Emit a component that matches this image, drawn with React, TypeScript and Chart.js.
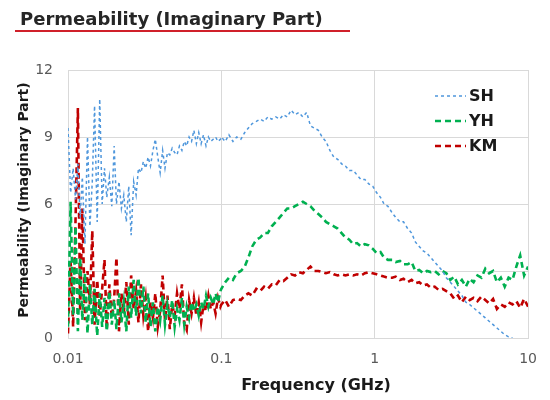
import React, { useEffect, useRef } from "react";
import { Chart, registerables } from "chart.js";

Chart.register(...registerables);

const TITLE = "Permeability (Imaginary Part)";
const X_TITLE = "Frequency (GHz)";
const Y_TITLE = "Permeability (Imaginary Part)";
const X_TICKS = [0.01, 0.1, 1, 10];
const X_TICK_LABELS = ["0.01", "0.1", "1", "10"];
const Y_MIN = 0;
const Y_MAX = 12;
const Y_STEP = 3;

const FREQ_GHZ = [
  0.0100, 0.0104, 0.0108, 0.0112, 0.0116, 0.0120, 0.0124, 0.0129, 0.0134, 0.0139,
  0.0144, 0.0149, 0.0155, 0.0161, 0.0167, 0.0173, 0.0179, 0.0186, 0.0193, 0.0200,
  0.0207, 0.0215, 0.0223, 0.0231, 0.0240, 0.0249, 0.0258, 0.0268, 0.0278, 0.0288,
  0.0299, 0.0310, 0.0321, 0.0333, 0.0345, 0.0358, 0.0371, 0.0385, 0.0399, 0.0414,
  0.0429, 0.0445, 0.0461, 0.0478, 0.0496, 0.0514, 0.0533, 0.0553, 0.0573, 0.0594,
  0.0616, 0.0639, 0.0662, 0.0687, 0.0712, 0.0738, 0.0765, 0.0794, 0.0823, 0.0853,
  0.0885, 0.0917, 0.0951, 0.0986,
  0.100, 0.106, 0.112, 0.119, 0.126, 0.134, 0.142, 0.150, 0.159, 0.169,
  0.179, 0.190, 0.201, 0.213, 0.226, 0.240, 0.254, 0.269, 0.285, 0.302,
  0.320, 0.340, 0.360, 0.381, 0.404, 0.429, 0.454, 0.481, 0.510, 0.541,
  0.573, 0.608, 0.644, 0.683, 0.724, 0.767, 0.813, 0.862, 0.914, 0.969,
  1.03, 1.09, 1.15, 1.22, 1.30, 1.37, 1.46, 1.54, 1.64, 1.74,
  1.84, 1.95, 2.07, 2.19, 2.32, 2.46, 2.61, 2.77, 2.93, 3.11,
  3.30, 3.49, 3.70, 3.93, 4.16, 4.41, 4.68, 4.96, 5.26, 5.57,
  5.91, 6.26, 6.64, 7.04, 7.46, 7.91, 8.38, 8.88, 9.42, 10.0,
];

const SH = [
  9.4, 6.5, 7.6, 6.2, 7.8, 5.4, 7.2, 4.2, 9.0, 5.0,
  7.0, 10.4, 5.2, 10.7, 6.0, 7.6, 6.3, 7.2, 5.9, 8.6,
  6.0, 7.0, 5.8, 6.4, 5.2, 6.8, 4.6, 7.0, 6.4, 7.6,
  7.4, 7.9, 7.6, 8.1, 7.7, 8.4, 8.9, 8.1, 7.4, 8.4,
  7.6, 8.3, 8.2, 8.5, 8.3, 8.2, 8.6, 8.4, 8.8, 8.6,
  9.0, 8.8, 9.3, 8.7, 9.2, 8.7, 9.1, 8.6, 9.0, 8.8,
  8.9, 9.0, 8.8, 8.9,
  9.0, 8.8, 9.1, 8.8, 9.0, 8.9, 9.2, 9.4, 9.6, 9.7,
  9.8, 9.7, 9.9, 9.8, 9.9, 9.8, 10.0, 9.9, 10.2, 10.0,
  10.1, 9.9, 10.1, 9.5, 9.4, 9.3, 9.0, 8.8, 8.4, 8.1,
  8.0, 7.8, 7.7, 7.5, 7.5, 7.3, 7.1, 7.1, 6.9, 6.8,
  6.5, 6.3, 6.0, 5.9, 5.6, 5.4, 5.2, 5.2, 4.9, 4.7,
  4.3, 4.1, 3.9, 3.8, 3.6, 3.4, 3.2, 3.0, 2.7, 2.5,
  2.3, 2.1, 1.9, 1.6, 1.5, 1.35, 1.2, 1.05, 0.9, 0.75,
  0.6, 0.45, 0.3, 0.15, 0.05, 0.0, null, null, null, null,
];

const YH = [
  0.5, 6.1, 1.0, 5.0, 0.3, 3.6, 0.8, 2.9, 0.2, 2.4,
  0.6, 2.2, 0.1, 2.0, 0.5, 1.8, 0.3, 2.1, 0.6, 1.7,
  0.4, 2.0, 0.7, 1.6, 0.3, 2.3, 0.9, 2.6, 1.0, 2.7,
  1.1, 2.3, 0.7, 2.0, 0.5, 1.6, 0.3, 1.4, 0.8, 1.9,
  0.6, 1.5, 0.9, 1.7, 0.5, 1.3, 0.8, 1.8, 0.6, 1.4,
  0.9, 1.6, 1.2, 1.5, 1.0, 1.6, 1.3, 1.9, 1.4, 1.8,
  1.5, 2.0, 1.6, 2.1,
  2.2, 2.5, 2.7, 2.6, 2.9, 3.0, 3.2, 3.6, 4.1, 4.4,
  4.5, 4.7, 4.7, 5.0, 5.2, 5.4, 5.6, 5.8, 5.8, 5.9,
  6.0, 6.1, 6.0, 5.9, 5.7, 5.55, 5.4, 5.2, 5.1, 5.0,
  4.9, 4.7, 4.5, 4.4, 4.2, 4.25, 4.1, 4.2, 4.15, 4.0,
  3.8, 3.85, 3.6, 3.5, 3.5, 3.4, 3.45, 3.3, 3.3, 3.4,
  3.0, 3.05, 2.9, 3.0, 2.95, 3.0, 2.85, 3.0, 2.9, 2.6,
  2.75, 2.4, 2.6, 2.3, 2.65, 2.5, 2.8, 2.7, 3.1, 2.9,
  3.0, 2.5, 2.7, 2.3, 2.7, 2.6, 3.2, 3.7, 2.8, 3.2,
];

const KM = [
  0.2, 3.4, 0.5, 5.3, 10.3, 1.2, 5.8, 0.8, 3.0, 1.5,
  4.8, 0.6, 2.6, 1.0, 2.2, 3.5, 0.4, 2.4, 0.9, 1.8,
  3.6, 0.3, 2.0, 1.1, 2.5, 0.6, 2.8, 1.3, 2.1, 0.7,
  2.4, 1.0, 1.8, 0.3, 1.6, 0.9, 2.0, 0.5, 1.2, 2.8,
  0.8, 1.9, 0.4, 1.5, 1.0, 2.0, 1.3, 2.4, 0.6, 0.35,
  1.7, 1.1, 1.8, 1.0, 1.6, 0.7, 1.5, 1.2, 1.9, 1.3,
  1.6, 1.1, 1.8, 1.4,
  1.5, 1.7, 1.4, 1.7, 1.75, 1.7, 1.9, 2.0, 1.9, 2.2,
  2.1, 2.3, 2.2, 2.4, 2.35, 2.6, 2.55, 2.7, 2.85, 2.8,
  2.95, 2.9, 3.05, 3.2, 3.0, 3.0, 2.95, 2.9, 2.95, 2.85,
  2.8, 2.85, 2.8, 2.85, 2.8, 2.85, 2.8, 2.9, 2.95, 2.9,
  2.85, 2.8, 2.75, 2.7, 2.7, 2.75, 2.6, 2.65, 2.5, 2.6,
  2.45, 2.5, 2.35, 2.4, 2.25, 2.3, 2.15, 2.2, 2.1, 2.0,
  1.75, 1.9, 1.6, 1.85, 1.7, 1.8, 1.65, 1.85, 1.7, 1.55,
  1.75, 1.3, 1.5, 1.4, 1.6, 1.5, 1.65, 1.35, 1.75, 1.4,
];

const SERIES = [
  { label: "SH", values: SH, color: "#4f97dc", width: 1.5, dash: [3, 3] },
  { label: "YH", values: YH, color: "#00b050", width: 2.6, dash: [6, 4] },
  { label: "KM", values: KM, color: "#c00000", width: 2.6, dash: [6, 4] },
];

const FONT = "'DejaVu Sans', Verdana, sans-serif";

const decorPlugin = {
  id: "decor",
  afterDraw(chart: any) {
    const ctx = chart.ctx;
    const area = chart.chartArea;
    ctx.save();
    // Title
    ctx.fillStyle = "#262626";
    ctx.font = `bold 18px ${FONT}`;
    ctx.textAlign = "left";
    ctx.textBaseline = "alphabetic";
    ctx.fillText(TITLE, 20, 25);
    ctx.strokeStyle = "#d0202a";
    ctx.lineWidth = 2;
    ctx.setLineDash([]);
    ctx.beginPath();
    ctx.moveTo(15, 31);
    ctx.lineTo(350, 31);
    ctx.stroke();

    // X title
    ctx.fillStyle = "#1a1a1a";
    ctx.font = `bold 16px ${FONT}`;
    ctx.textAlign = "center";
    ctx.fillText(X_TITLE, 316, 390);

    // Y title
    ctx.save();
    ctx.translate(28, (area.top + area.bottom) / 2 - 4);
    ctx.rotate(-Math.PI / 2);
    ctx.font = `bold 14px ${FONT}`;
    ctx.textAlign = "center";
    ctx.textBaseline = "alphabetic";
    ctx.fillText(Y_TITLE, 0, 0);
    ctx.restore();

    // Legend
    const lx0 = 435;
    const lx1 = 466;
    const rows = [96, 121, 146];
    SERIES.forEach((s, i) => {
      const y = rows[i];
      ctx.strokeStyle = s.color;
      ctx.lineWidth = s.width;
      ctx.setLineDash(s.dash);
      ctx.beginPath();
      ctx.moveTo(lx0, y);
      ctx.lineTo(lx1, y);
      ctx.stroke();
      ctx.setLineDash([]);
      ctx.fillStyle = "#1a1a1a";
      ctx.font = `bold 16px ${FONT}`;
      ctx.textAlign = "left";
      ctx.textBaseline = "middle";
      ctx.fillText(s.label, 469, y + 1);
    });
    ctx.restore();
  },
};

export default function App() {
  const ref = useRef<HTMLCanvasElement | null>(null);

  useEffect(() => {
    if (!ref.current) return;
    const chart = new Chart(ref.current, {
      type: "line",
      data: {
        datasets: SERIES.map((s) => ({
          label: s.label,
          data: FREQ_GHZ.map((f, i) => ({ x: f, y: s.values[i] })),
          borderColor: s.color,
          backgroundColor: s.color,
          borderWidth: s.width,
          borderDash: s.dash,
          pointRadius: 0,
          tension: 0,
          fill: false,
          spanGaps: false,
        })),
      },
      options: {
        responsive: false,
        animation: false,
        devicePixelRatio: 1,
        layout: { padding: { top: 70, right: 21, left: 0, bottom: 0 } },
        plugins: {
          legend: { display: false },
          title: { display: false },
          tooltip: { enabled: false },
        },
        scales: {
          x: {
            type: "logarithmic",
            min: X_TICKS[0],
            max: X_TICKS[X_TICKS.length - 1],
            afterBuildTicks: (scale: any) => {
              scale.ticks = X_TICKS.map((v) => ({ value: v }));
            },
            afterFit: (scale: any) => {
              scale.height = 62;
            },
            ticks: {
              autoSkip: false,
              maxRotation: 0,
              padding: 13,
              color: "#595959",
              font: { family: FONT, size: 14 },
              callback: (v: any) => {
                const i = X_TICKS.indexOf(Number(v));
                return i >= 0 ? X_TICK_LABELS[i] : "";
              },
            },
            grid: { color: "#d9d9d9", lineWidth: 1, drawTicks: false },
            border: { display: true, color: "#d9d9d9" },
          },
          y: {
            type: "linear",
            min: Y_MIN,
            max: Y_MAX,
            afterFit: (scale: any) => {
              scale.width = 68;
            },
            ticks: {
              stepSize: Y_STEP,
              padding: 15,
              color: "#595959",
              font: { family: FONT, size: 14 },
            },
            grid: { color: "#d9d9d9", lineWidth: 1, drawTicks: false },
            border: { display: true, color: "#d9d9d9" },
          },
        },
      },
      plugins: [decorPlugin],
    } as any);
    return () => chart.destroy();
  }, []);

  return (
    <div
      style={{
        position: "fixed",
        left: 0,
        top: 0,
        width: 550,
        height: 400,
        background: "#ffffff",
      }}
    >
      <canvas ref={ref} width={550} height={400} />
    </div>
  );
}
